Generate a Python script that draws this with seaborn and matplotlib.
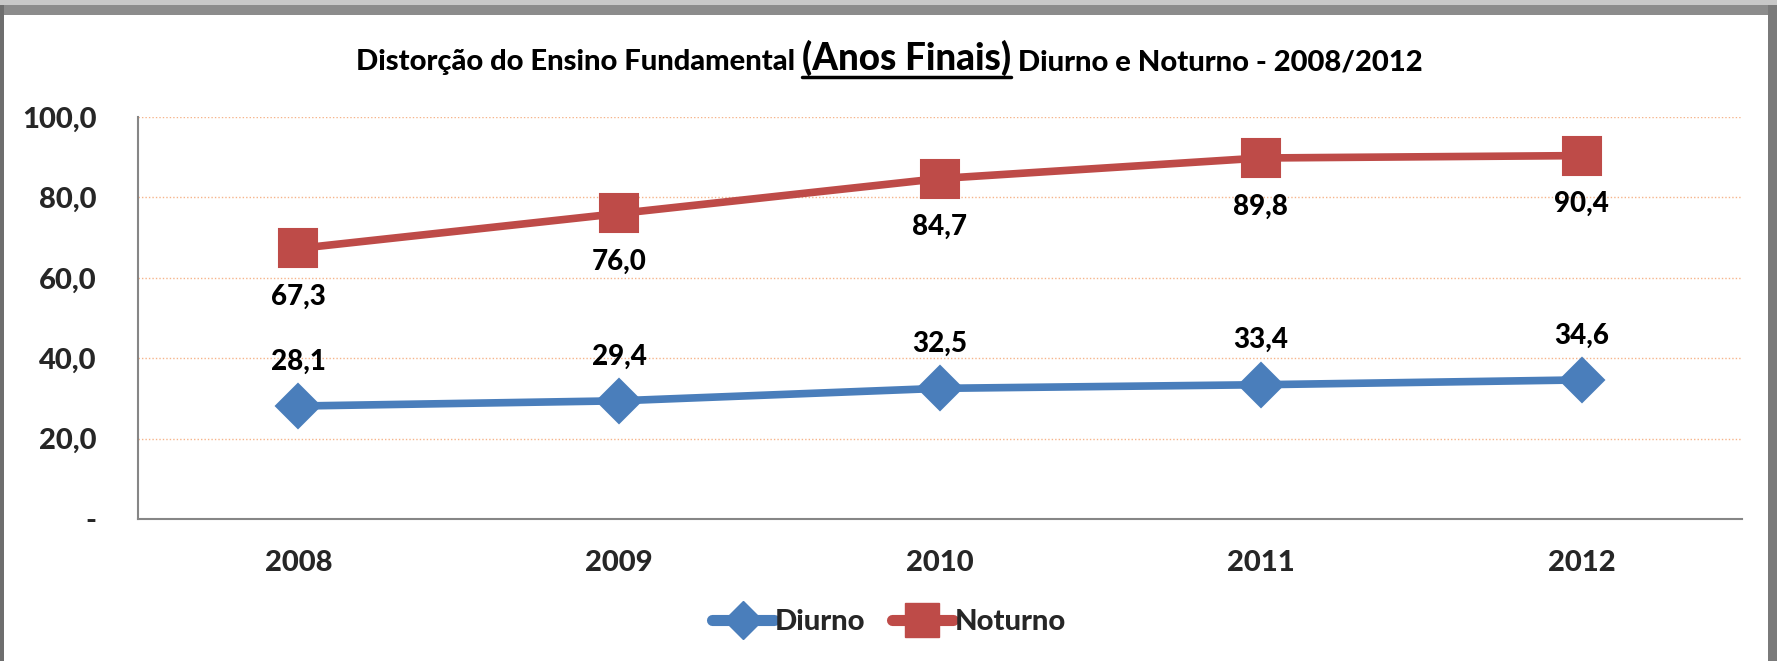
import matplotlib
matplotlib.use("Agg")
import matplotlib.pyplot as plt
import seaborn as sns
import pandas as pd
import numpy as np
from matplotlib.lines import Line2D
from matplotlib.patches import Rectangle

years = ["2008", "2009", "2010", "2011", "2012"]
diurno = [28.1, 29.4, 32.5, 33.4, 34.6]
noturno = [67.3, 76.0, 84.7, 89.8, 90.4]
y_ticks = [0, 20, 40, 60, 80, 100]
y_tick_labels = ["-", "20,0", "40,0", "60,0", "80,0", "100,0"]
series_names = ["Diurno", "Noturno"]

BLUE = "#4A7EBB"
RED = "#BE4B48"
FONT = "Lato"
W8 = "black"

sns.set_theme(style="white")
plt.rcParams["font.family"] = [FONT, "DejaVu Sans"]
plt.rcParams["font.weight"] = W8

df = pd.DataFrame({
    "pos": list(range(len(years))) * 2,
    "valor": diurno + noturno,
    "serie": [series_names[0]] * len(years) + [series_names[1]] * len(years),
})

fig = plt.figure(figsize=(17.77, 6.61), dpi=100)
ax = fig.add_axes([138 / 1777, 1 - 519 / 661, (1742 - 138) / 1777, (519 - 117) / 661])

for name, color, marker, ms in [("Diurno", BLUE, "D", 22), ("Noturno", RED, "s", 28)]:
    sub = df[df["serie"] == name]
    sns.lineplot(data=sub, x="pos", y="valor", ax=ax, color=color, linewidth=5.5,
                 marker=marker, markersize=ms, markeredgecolor=color,
                 markeredgewidth=1.5, legend=False, zorder=3)

ax.set_xlim(-0.5, len(years) - 0.5)
ax.set_ylim(0, 100)
ax.set_xticks(range(len(years)))
ax.set_xticklabels(years, fontsize=21, fontweight=W8)
ax.set_yticks(y_ticks)
ax.set_yticklabels(y_tick_labels, fontsize=21, fontweight=W8)
ax.tick_params(axis="x", length=0, pad=22)
ax.tick_params(axis="y", length=0, pad=30)
ax.set_xlabel("")
ax.set_ylabel("")

for t in y_ticks[1:]:
    ax.axhline(t, color="#F6B48A", linestyle=(0, (1, 1.5)), linewidth=1.0, zorder=1)

for s in ["top", "right"]:
    ax.spines[s].set_visible(False)
for s in ["left", "bottom"]:
    ax.spines[s].set_color("#868686")
    ax.spines[s].set_linewidth(1.5)

# data labels
for i, v in enumerate(diurno):
    ax.annotate(f"{v:.1f}".replace(".", ","), (i, v), xytext=(0, 32), textcoords="offset points",
                ha="center", va="center", fontsize=20, fontweight=W8, color="black")
for i, v in enumerate(noturno):
    ax.annotate(f"{v:.1f}".replace(".", ","), (i, v), xytext=(0, -35), textcoords="offset points",
                ha="center", va="center", fontsize=20, fontweight=W8, color="black")

# legend
handles = [
    Line2D([], [], color=BLUE, linewidth=8, marker="D", markersize=19, markeredgecolor=BLUE),
    Line2D([], [], color=RED, linewidth=8, marker="s", markersize=24, markeredgecolor=RED),
]
fig.legend(handles, series_names, loc="center", bbox_to_anchor=(889 / 1777, 1 - 622 / 661),
           ncol=2, frameon=False, handlelength=2.1, handletextpad=0.05,
           columnspacing=0.9, prop={"family": FONT, "weight": W8, "size": 21})

# title in three parts
fig.canvas.draw()
renderer = fig.canvas.get_renderer()
ty = 1 - 70 / 661
parts = [("Distorção do Ensino Fundamental ", 21, False),
         ("(Anos Finais)", 26.5, True),
         (" Diurno e Noturno - 2008/2012", 21, False)]
texts = []
for s, size, ul in parts:
    t = fig.text(0, ty, s, fontsize=size, fontweight=W8, ha="left", va="baseline", color="black")
    texts.append((t, ul))
fig.canvas.draw()
widths = [t.get_window_extent(renderer).width for t, _ in texts]
total = sum(widths)
x0 = 889 - total / 2
W, H = fig.bbox.width, fig.bbox.height
for (t, ul), w in zip(texts, widths):
    t.set_x(x0 / W)
    if ul:
        y_ul = ty - 7 / H
        fig.add_artist(Line2D([x0 / W, (x0 + w) / W], [y_ul, y_ul], color="black",
                              linewidth=2.5, transform=fig.transFigure))
    x0 += w

# frame / border
fig.patches.append(Rectangle((0, 1 - 15 / 661), 1, 15 / 661, transform=fig.transFigure,
                             facecolor="#8C8C8C", edgecolor="none", zorder=10))
fig.patches.append(Rectangle((0, 1 - 5 / 661), 1, 5 / 661, transform=fig.transFigure,
                             facecolor="#C8C8C8", edgecolor="none", zorder=11))
fig.patches.append(Rectangle((0, 0), 4 / 1777, 1, transform=fig.transFigure,
                             facecolor="#6E6E6E", edgecolor="none", zorder=10))
fig.patches.append(Rectangle((1 - 9 / 1777, 0), 9 / 1777, 1, transform=fig.transFigure,
                             facecolor="#7A7A7A", edgecolor="none", zorder=10))

fig.savefig("out.png", dpi=100)
